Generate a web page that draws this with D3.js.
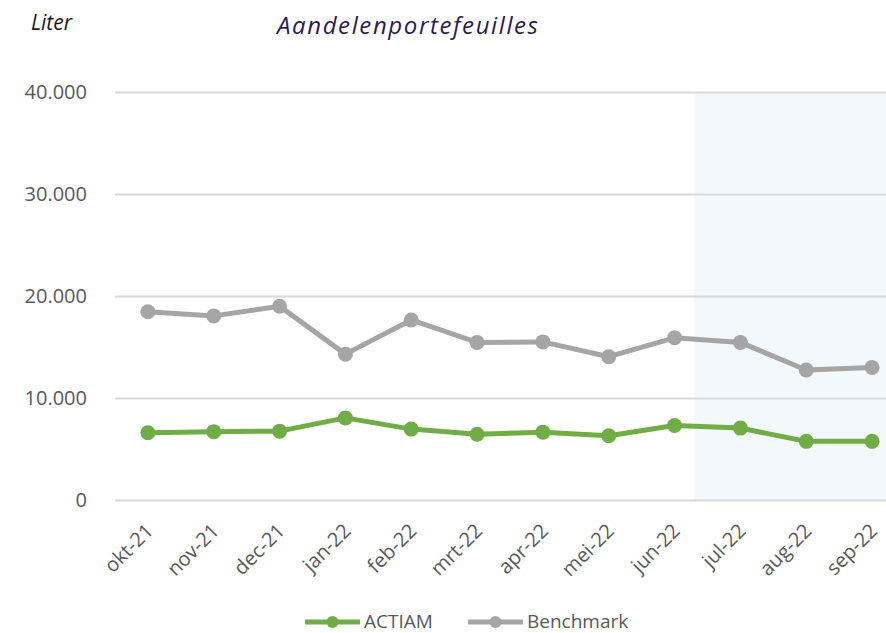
<!DOCTYPE html>
<html>
<head>
<meta charset="utf-8">
<script src="https://cdn.jsdelivr.net/npm/d3@7"></script>
<style>
  body { margin: 0; background: #fff; }
  text { font-family: "Open Sans", sans-serif; }
</style>
</head>
<body>
<div id="wrapper"></div>
<script>
// maanden
const months = ["okt-21", "nov-21", "dec-21", "jan-22", "feb-22", "mrt-22",
  "apr-22", "mei-22", "jun-22", "jul-22", "aug-22", "sep-22"]
// liters
const actiam = [6600, 6700, 6750, 8050, 6950, 6450, 6650, 6300, 7300, 7050, 5750, 5750]
const benchmark = [18450, 18050, 19000, 14300, 17650, 15450, 15500, 14050, 15900, 15450, 12750, 13000]
const yTicks = [0, 10000, 20000, 30000, 40000]
// gearceerd gebied: vanaf index 8.3 (net na jun) tot rechts
const shadeFrom = 8.3

const series = [
  { name: "ACTIAM", values: actiam, color: "#70ad47" },
  { name: "Benchmark", values: benchmark, color: "#a5a5a5" },
]

const dimensions = {
  width: 886,
  height: 633,
  margin: { top: 92, right: -19, bottom: 133, left: 115 },
}
dimensions.boundedWidth = dimensions.width - dimensions.margin.left - dimensions.margin.right
dimensions.boundedHeight = dimensions.height - dimensions.margin.top - dimensions.margin.bottom

const wrapper = d3.select("#wrapper")
  .append("svg")
    .attr("width", dimensions.width)
    .attr("height", dimensions.height)

const bounds = wrapper.append("g")
  .attr("transform", `translate(${dimensions.margin.left},${dimensions.margin.top})`)

// x op index, zodat het gearceerde blok ook tussen de maanden kan beginnen
const xScale = d3.scaleLinear()
  .domain([-0.5, months.length - 0.5])
  .range([0, dimensions.boundedWidth])

const yScale = d3.scaleLinear()
  .domain([0, 40000])
  .range([dimensions.boundedHeight, 0])

// gearceerd gebied
bounds.append("rect")
  .attr("x", xScale(shadeFrom))
  .attr("y", 0)
  .attr("width", xScale(months.length - 0.5) - xScale(shadeFrom))
  .attr("height", dimensions.boundedHeight)
  .attr("fill", "#f2f8fc")

// y-as met rasterlijnen
const fmt = d => d3.format(",")(d).replace(/,/g, ".")
const yAxis = bounds.append("g")
  .call(d3.axisLeft(yScale)
    .tickValues(yTicks)
    .tickSize(-dimensions.boundedWidth)
    .tickPadding(28)
    .tickFormat(fmt))
yAxis.select(".domain").remove()
yAxis.selectAll(".tick line")
  .attr("stroke", "#d9d9d9")
  .attr("stroke-width", 2)
yAxis.selectAll(".tick text")
  .attr("fill", "#595959")
  .style("font-size", "20px")

// x-as labels
const xAxis = bounds.append("g")
  .attr("transform", `translate(0,${dimensions.boundedHeight})`)
  .call(d3.axisBottom(xScale)
    .tickValues(d3.range(months.length))
    .tickSize(0)
    .tickFormat(i => months[i]))
xAxis.select(".domain").remove()
xAxis.selectAll(".tick text")
  .attr("fill", "#595959")
  .style("font-size", "20px")
  .attr("text-anchor", "end")
  .attr("dy", 0)
  .attr("transform", "translate(4,30) rotate(-45)")

// lijnen
const lineGenerator = (values) => d3.line()
  .x((d, i) => xScale(i))
  .y(d => yScale(d))(values)

series.slice().reverse().forEach(s => {
  bounds.append("path")
    .attr("d", lineGenerator(s.values))
    .attr("fill", "none")
    .attr("stroke", s.color)
    .attr("stroke-width", 5)
    .attr("stroke-linejoin", "round")

  bounds.selectAll(null)
    .data(s.values)
    .join("circle")
      .attr("cx", (d, i) => xScale(i))
      .attr("cy", d => yScale(d))
      .attr("r", 7.5)
      .attr("fill", s.color)
})

// titels
wrapper.append("text")
  .attr("x", 31)
  .attr("y", 30)
  .style("font-size", "21px")
  .style("font-style", "italic")
  .attr("fill", "#1a1a1a")
  .text("Liter")

wrapper.append("text")
  .attr("x", 277)
  .attr("y", 34)
  .style("font-size", "24px")
  .style("font-style", "italic")
  .style("letter-spacing", "1.6px")
  .attr("fill", "#2e1a4f")
  .text("Aandelenportefeuilles")

// legenda
const legendX = [305, 468]
const legend = wrapper.append("g")
  .attr("transform", "translate(0,622)")
series.forEach((s, i) => {
  const g = legend.append("g").attr("transform", `translate(${legendX[i]},0)`)
  g.append("line")
    .attr("x1", 0).attr("x2", 55)
    .attr("stroke", s.color)
    .attr("stroke-width", 5)
  g.append("circle")
    .attr("cx", 27.5)
    .attr("r", 6)
    .attr("fill", s.color)
  g.append("text")
    .attr("x", 59)
    .attr("y", 6)
    .style("font-size", "19px")
    .attr("fill", "#595959")
    .text(s.name)
})
</script>
</body>
</html>
